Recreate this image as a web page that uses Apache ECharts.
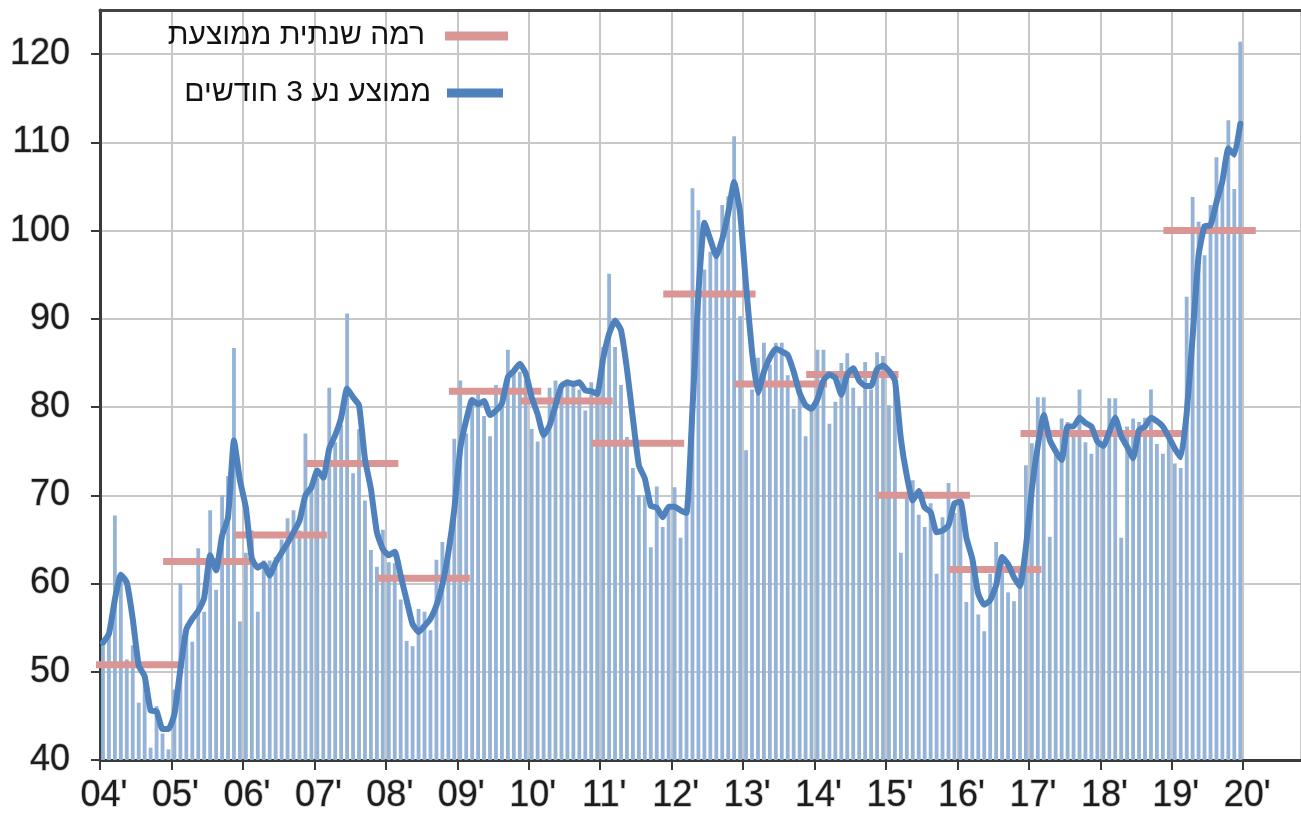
<!DOCTYPE html>
<html>
<head>
<meta charset="utf-8">
<script src="https://cdn.jsdelivr.net/npm/echarts@6/dist/echarts.min.js"></script>
<style>
  html, body { margin: 0; padding: 0; background: #fff; }
  #chart-container { width: 1301px; height: 815px; }
</style>
</head>
<body>
<div id="chart-container"></div>
<script>
// one tick label per year, Jan of each year
const yearLabels = ["04'", "05'", "06'", "07'", "08'", "09'", "10'", "11'", "12'",
  "13'", "14'", "15'", "16'", "17'", "18'", "19'", "20'"];

const years = [2004, 2005, 2006, 2007, 2008, 2009, 2010, 2011,
  2012, 2013, 2014, 2015, 2016, 2017, 2018, 2019];
const annualLevel = [50.8, 62.5, 65.5, 73.6, 60.6, 81.8, 80.7, 75.9,
  92.8, 82.6, 83.7, 70.0, 61.6, 77.0, 77.0, 100.0];

// monthly values, Jan 2004 .. Dec 2019 (12 per row)
const monthly = [
  53, 54, 67.7, 61, 51.4, 53, 46.5, 49, 41.4, 46.1, 43, 41.2,
  48, 60, 55, 53.4, 64, 56.8, 68.3, 59.3, 70, 72.2, 86.7, 55.7,
  63.5, 66, 56.8, 62.6, 62.6, 63, 65, 67.4, 68.3, 66, 77, 71,
  72, 72, 82.2, 76, 78, 90.6, 72.5, 77.5, 69.4, 63.8, 61.9, 66.1,
  62.4, 62.3, 58.2, 53.5, 52.9, 57.1, 56.8, 54.7, 62.7, 64.7, 64, 76.4,
  83, 77, 81, 82, 79, 76.7, 82.5, 82, 86.5, 84, 84, 83,
  77.5, 76.1, 77, 82.2, 83, 82, 83, 83, 82, 79.6, 82.8, 82,
  86.8, 95.1, 86.8, 82.5, 76.6, 73.1, 70, 70, 64.1, 71, 66.4, 68.5,
  70.9, 65.2, 68, 104.8, 102.3, 95.6, 97.6, 98, 102.9, 103.9, 110.7, 90.3,
  75.1, 82, 85.6, 87.3, 84.8, 87.3, 87.3, 83.6, 79.8, 82, 76.7, 80,
  86.5, 86.5, 78.1, 80.6, 85, 86.1, 82.2, 80.1, 85.1, 82, 86.2, 85.8,
  80.2, 83, 63.5, 70, 71.7, 67.8, 66.4, 69.1, 61.1, 67.5, 71.4, 68,
  68.5, 57.9, 62, 56.5, 54.6, 61.1, 64.7, 63, 59, 58, 62, 73.4,
  75.9, 81.1, 81.1, 65.3, 74.7, 78.7, 78.3, 77.4, 82, 76, 74.7, 76.6,
  75.5, 81, 81, 65.2, 77.8, 78.7, 78.3, 78.8, 82, 75.8, 74.7, 77,
  73.6, 73.1, 92.5, 103.8, 101, 97.2, 102.9, 108.3, 106, 112.5, 104.7, 121.4
];

// 3 month moving average as drawn
const movingAvg = [
  53.3, 54.3, 58.2, 61.0, 60.1, 56.0, 50.7, 49.5, 45.6, 45.5, 43.5, 43.5,
  45.2, 50.3, 54.8, 56.0, 56.9, 58.4, 63.2, 61.5, 65.4, 67.5, 76.2, 71.7,
  68.6, 62.8, 61.8, 62.2, 60.9, 62.4, 63.5, 64.6, 65.8, 67.1, 70.0, 70.9,
  72.8, 72.0, 75.3, 76.8, 78.8, 82.1, 81.1, 80.2, 74.1, 70.7, 65.8, 63.9,
  63.2, 63.6, 60.9, 58.1, 55.4, 54.5, 55.2, 56.0, 57.5, 59.9, 63.5, 68.4,
  75.3, 78.5, 80.8, 80.3, 80.7, 79.1, 79.6, 80.4, 83.4, 84.1, 84.9, 83.8,
  81.1, 79.2, 76.8, 77.9, 80.2, 82.4, 82.8, 82.6, 82.8, 81.9, 81.8, 81.5,
  85.5, 88.3, 89.8, 88.7, 84.3, 78.7, 73.4, 71.9, 68.8, 68.6, 67.5, 68.7,
  68.7, 68.3, 68.0, 79.8, 92.9, 100.9, 99.0, 97.1, 99.0, 102.0, 105.5, 102.0,
  93.8, 86.3, 81.6, 84.0, 85.6, 86.6, 86.3, 85.9, 84.0, 81.6, 80.2, 79.8,
  80.9, 83.0, 83.7, 83.3, 81.4, 83.7, 84.4, 83.0, 82.4, 82.4, 84.3, 84.7,
  84.1, 83.0, 76.4, 72.2, 69.4, 70.5, 68.6, 68.1, 65.8, 66.0, 66.6, 69.1,
  69.3, 65.2, 62.8, 58.8, 57.6, 58.1, 59.8, 63.0, 62.2, 60.7, 59.7, 64.1,
  70.7, 75.6, 79.1, 76.3, 75.0, 74.0, 77.8, 77.8, 78.8, 78.2, 77.8, 76.1,
  75.6, 77.2, 78.8, 76.7, 75.5, 74.2, 77.4, 77.8, 78.8, 78.4, 77.8, 76.6,
  75.3, 74.3, 79.3, 88.0, 97.2, 100.5, 100.6, 103.2, 105.6, 109.3, 108.6, 112.1
];

const levelName = 'רמה שנתית ממוצעת';
const avgName = 'ממוצע נע 3 חודשים';

// level bars reach a little before and after their year (in months)
const levelFrom = -1.4;
const levelTo = 14.1;

const font = '"Liberation Sans", Arial, sans-serif';
const axisColor = '#3a3a3a';
const gridColor = '#c8c8c8';

var dom = document.getElementById('chart-container');
var myChart = echarts.init(dom, null, { renderer: 'canvas' });

const barData = monthly.map((v, i) => [i + 0.5, v]);
const avgData = movingAvg.map((v, i) => [i + 0.5, v]);

const levelSeries = years.map((y, k) => ({
  name: levelName,
  type: 'line',
  data: [[k * 12 + levelFrom, annualLevel[k]], [k * 12 + levelTo, annualLevel[k]]],
  symbol: 'none',
  clip: false,
  silent: true,
  z: 3,
  itemStyle: { color: '#d99694' },
  lineStyle: { color: '#d99694', width: 7, cap: 'butt' }
}));

const labelText = {
  fontFamily: font,
  fontSize: 36,
  color: '#1c1c1c',
  textBorderColor: '#c4c4c4',
  textBorderWidth: 1.5
};

var option = {
  animation: false,
  backgroundColor: '#fff',
  grid: { left: 100, right: 0, top: 10, bottom: 55 },
  legend: [
    {
      data: [{ name: levelName, icon: 'rect' }],
      right: 793, top: 20, padding: 0,
      align: 'right',
      itemWidth: 63, itemHeight: 9,
      selectedMode: false,
      textStyle: { fontFamily: font, fontSize: 30, color: '#111', lineHeight: 32, padding: [0, 15, 0, 0] }
    },
    {
      data: [{ name: avgName, icon: 'rect' }],
      right: 798, top: 77, padding: 0,
      align: 'right',
      itemWidth: 56, itemHeight: 9,
      selectedMode: false,
      textStyle: { fontFamily: font, fontSize: 30, color: '#111', lineHeight: 32, padding: [0, 11, 0, 0] }
    }
  ],
  xAxis: [
    {
      type: 'value',
      min: 0,
      max: 201.7,
      interval: 12,
      axisLine: { show: true, lineStyle: { color: axisColor, width: 3 } },
      axisTick: { show: true, length: 10, lineStyle: { color: axisColor, width: 2 } },
      axisLabel: Object.assign({
        margin: 18,
        showMaxLabel: false,
        padding: [0, 0, 0, 8],
        formatter: v => yearLabels[Math.round(v / 12)] || ''
      }, labelText),
      splitLine: { show: true, lineStyle: { color: gridColor, width: 2 } }
    },
    {
      type: 'value',
      position: 'top',
      min: 0,
      max: 201.7,
      interval: 12,
      axisLine: { show: true, lineStyle: { color: '#444', width: 3 } },
      axisTick: { show: false },
      axisLabel: { show: false },
      splitLine: { show: false }
    }
  ],
  yAxis: {
    type: 'value',
    min: 40,
    max: 125,
    interval: 10,
    axisLine: { show: true, lineStyle: { color: axisColor, width: 3 } },
    axisTick: { show: true, length: 9, lineStyle: { color: axisColor, width: 2 } },
    axisLabel: Object.assign({ margin: 30, showMaxLabel: false }, labelText),
    splitLine: { show: true, lineStyle: { color: gridColor, width: 2 } }
  },
  series: [
    {
      name: 'חודשי',
      type: 'bar',
      data: barData,
      barWidth: 3.8,
      z: 2,
      silent: true,
      itemStyle: { color: '#95b3d7' }
    },
    ...levelSeries,
    {
      name: avgName,
      type: 'line',
      data: avgData,
      symbol: 'none',
      smooth: 0.15,
      z: 4,
      silent: true,
      itemStyle: { color: '#4f81bd' },
      lineStyle: { color: '#4f81bd', width: 6, join: 'round', cap: 'round' }
    }
  ]
};

myChart.setOption(option);
window.addEventListener('resize', myChart.resize);
</script>
</body>
</html>
